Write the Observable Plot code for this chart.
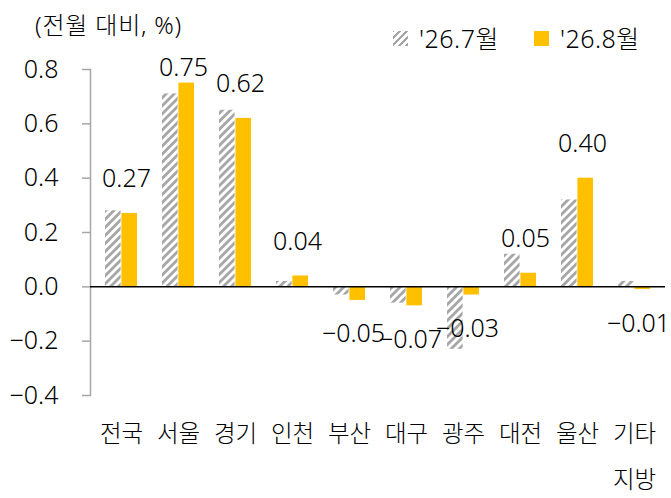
<!DOCTYPE html>
<html>
<head>
<meta charset="utf-8">
<script src="https://cdn.jsdelivr.net/npm/d3@7"></script>
<script src="https://cdn.jsdelivr.net/npm/@observablehq/plot@0.6"></script>
<style>
  html, body { margin: 0; padding: 0; background: #fff; }
  #wrap { position: relative; width: 671px; height: 498px; font-family: "Noto Sans", "Noto Sans CJK KR", sans-serif; font-weight: 300; color: #000; }
  #title { position: absolute; left: 35px; top: 9px; font-size: 24px; line-height: 32px; white-space: nowrap; letter-spacing: 0.8px; }
  #legend { position: absolute; left: 393px; top: 22px; font-size: 25px; line-height: 32px; white-space: nowrap; display: flex; align-items: center; letter-spacing: 0.5px; }
  .sw { display: inline-block; width: 15px; height: 15px; margin-right: 11px; }
  .hatch { background: repeating-linear-gradient(-45deg, #a6a6a6 0 2.5px, #fff 2.5px 5px); }
  .gold { background: #FFC000; }
  .item { display: flex; align-items: center; margin-right: 35px; }
  #chart { position: absolute; left: 0; top: 0; }
  #chart svg text { font-weight: 300; }
</style>
</head>
<body>
<div id="wrap">
  <div id="chart"></div>
  <div id="title">(전월 대비, %)</div>
  <div id="legend"></div>
</div>
<script>
const categories = ["전국", "서울", "경기", "인천", "부산", "대구", "광주", "대전", "울산", "기타지방"];
const seriesNames = ["'26.7월", "'26.8월"];
const jul = [0.28, 0.71, 0.65, 0.02, -0.03, -0.06, -0.23, 0.12, 0.32, 0.02];
const aug = [0.27, 0.75, 0.62, 0.04, -0.05, -0.07, -0.03, 0.05, 0.40, -0.01];
const yTicks = [-0.4, -0.2, 0.0, 0.2, 0.4, 0.6, 0.8];

const rows = categories.map((c, i) => ({cat: c, jul: jul[i], aug: aug[i]}));

const font = '"Noto Sans", "Noto Sans CJK KR", sans-serif';
const fmt1 = d3.format(".1f");
const fmt2 = d3.format(".2f");
const labelCap = 0.68; // keep the highest label inside the plot, below the title

const svg = Plot.plot({
  width: 671,
  height: 498,
  marginLeft: 90,
  marginRight: 6,
  marginTop: 69,
  marginBottom: 103,
  style: {fontFamily: font, fontSize: "24px", color: "#000", background: "transparent"},
  x: {type: "band", domain: categories, paddingInner: 0.43, paddingOuter: 0.215, axis: null},
  y: {domain: [-0.4, 0.8], axis: null},
  marks: [
    Plot.frame({anchor: "left", stroke: "#a6a6a6", strokeWidth: 1.5}),
    Plot.barY(rows, {x: "cat", y: "jul", fill: "url(#hatch26)", insetRight: 16.4}),
    Plot.barY(rows, {x: "cat", y: "aug", fill: "#FFC000", insetLeft: 16.4}),
    Plot.ruleY([0], {stroke: "#000", strokeWidth: 1.5}),
    Plot.axisY(yTicks, {tickSize: 8, tickPadding: 24, stroke: "#a6a6a6", strokeWidth: 1.5, fill: "#000", fontSize: 25, letterSpacing: 1, label: null, tickFormat: d => fmt1(d)}),
    Plot.axisX({anchor: "bottom", tickSize: 0, tickPadding: 14, fontSize: 23.5, fill: "#000", lineHeight: 1.95, label: null,
      tickFormat: d => d === "기타지방" ? "기타\n지방" : d}),
    Plot.text(rows.filter(d => d.aug >= 0), {x: "cat", y: d => Math.min(d.aug, labelCap), text: d => fmt2(d.aug), dy: -34, dx: 5, fontSize: 25, letterSpacing: 1, fill: "#000"}),
    Plot.text(rows.filter(d => d.aug < 0), {x: "cat", y: "aug", text: d => fmt2(d.aug), dy: 34, dx: 4, fontSize: 25, letterSpacing: 1, fill: "#000"})
  ]
});

d3.select(svg).insert("defs", ":first-child").html(
  '<pattern id="hatch26" patternUnits="userSpaceOnUse" width="5.7" height="5.7" patternTransform="rotate(45)">' +
  '<rect width="5.7" height="5.7" fill="#ffffff"/><rect width="2.8" height="5.7" fill="#a6a6a6"/></pattern>'
);

document.getElementById("chart").appendChild(svg);

const legend = document.getElementById("legend");
const swClass = ["hatch", "gold"];
seriesNames.forEach((name, i) => {
  const item = document.createElement("span");
  item.className = "item";
  const sw = document.createElement("span");
  sw.className = "sw " + swClass[i];
  item.appendChild(sw);
  item.appendChild(document.createTextNode(name));
  legend.appendChild(item);
});
</script>
</body>
</html>
